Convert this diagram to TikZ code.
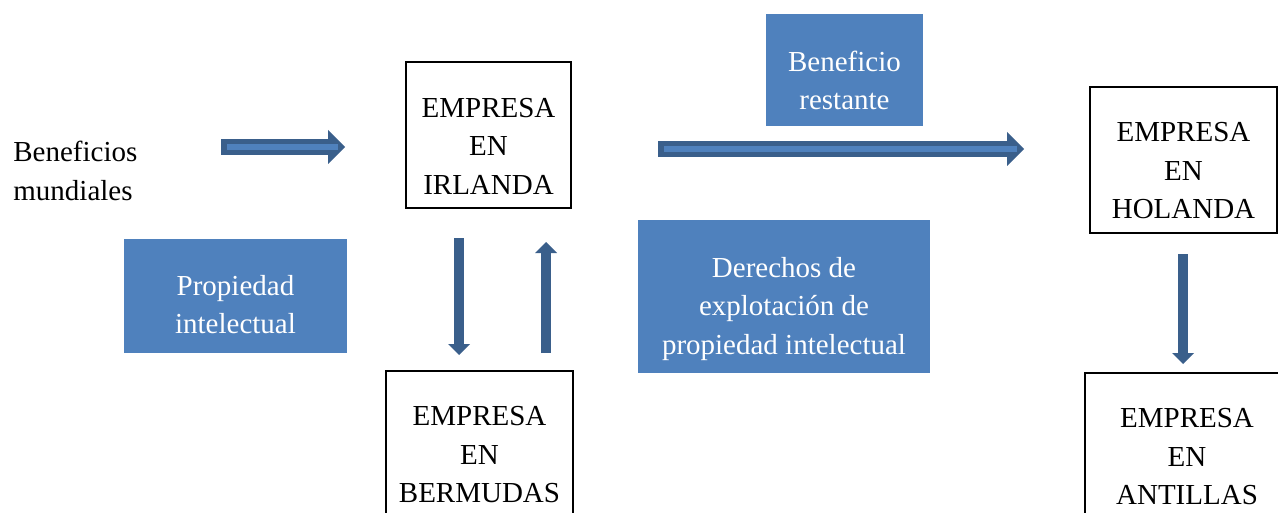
\documentclass[tikz,border=0pt]{standalone}
\usepackage{fontspec}
\setmainfont{Liberation Serif}
\usepackage{tikz}
\usetikzlibrary{arrows.meta}
\definecolor{boxblue}{HTML}{4F81BD}
\definecolor{arrowblue}{HTML}{3A5F8B}
\newcommand{\lift}[1]{\rule{0pt}{#1}}

\begin{document}
\begin{tikzpicture}[x=0.5pt, y=-0.5pt]
\tikzstyle{every node} = [font=\fontsize{14.5}{19.25}\selectfont, align=center, inner sep=0pt]
\tikzstyle{firm} = [draw=black, line width=0.75pt, minimum height=73pt]
\tikzstyle{tag} = [fill=boxblue, text=white]
\tikzstyle{fat} = [draw=arrowblue, line width=8pt, -{Triangle[length=8.5pt,width=17pt,line width=0pt]}, postaction={draw=boxblue, line width=2.75pt, -, shorten <=3pt, shorten >=3.5pt}]
\tikzstyle{slim} = [draw=arrowblue, line width=5pt, -{Triangle[length=5.5pt,width=11pt,line width=0pt]}]

\clip (0,0) rectangle (1278,513);

\node[anchor=north west, align=left] (mund) at (13,141) {Beneficios\\mundiales};
\node[firm, minimum width=82.5pt] (irl) at (488.5,135) {\lift{20.6pt}EMPRESA\\EN\\IRLANDA};
\node[firm, minimum width=93.5pt] (hol) at (1183.5,160) {\lift{20.6pt}EMPRESA\\EN\\HOLANDA};
\node[firm, minimum width=93.5pt] (ber) at (479.5,444) {\lift{20.6pt}EMPRESA\\EN\\BERMUDAS};
\node[firm, minimum width=102pt] (ant) at (1187,446) {\lift{20.6pt}EMPRESA\\EN\\ANTILLAS};
\node[tag, minimum width=78.5pt, minimum height=56pt] (rest) at (844.5,70) {\lift{20.4pt}Beneficio\\restante};
\node[tag, minimum width=111.5pt, minimum height=57pt] (pint) at (235.5,296) {\lift{18.4pt}Propiedad\\intelectual};
\node[tag, minimum width=146pt, minimum height=76.5pt] (dex) at (784,296.5) {\lift{22.4pt}Derechos de\\explotación de\\propiedad intelectual};

\coordinate (m1) at (221,147);
\coordinate (m2) at (345,147);
\coordinate (h1) at (658,149);
\coordinate (h2) at (1024,149);
\coordinate (b1) at (459,238);
\coordinate (b2) at (459,355);
\coordinate (r1) at (546,353);
\coordinate (r2) at (546,242);
\coordinate (n1) at (1183,254);
\coordinate (n2) at (1183,364);

\foreach \from/\to in {m1/m2, h1/h2}
\draw [fat] (\from) -- (\to);
\foreach \from/\to in {b1/b2, r1/r2, n1/n2}
\draw [slim] (\from) -- (\to);

\end{tikzpicture}
\end{document}
